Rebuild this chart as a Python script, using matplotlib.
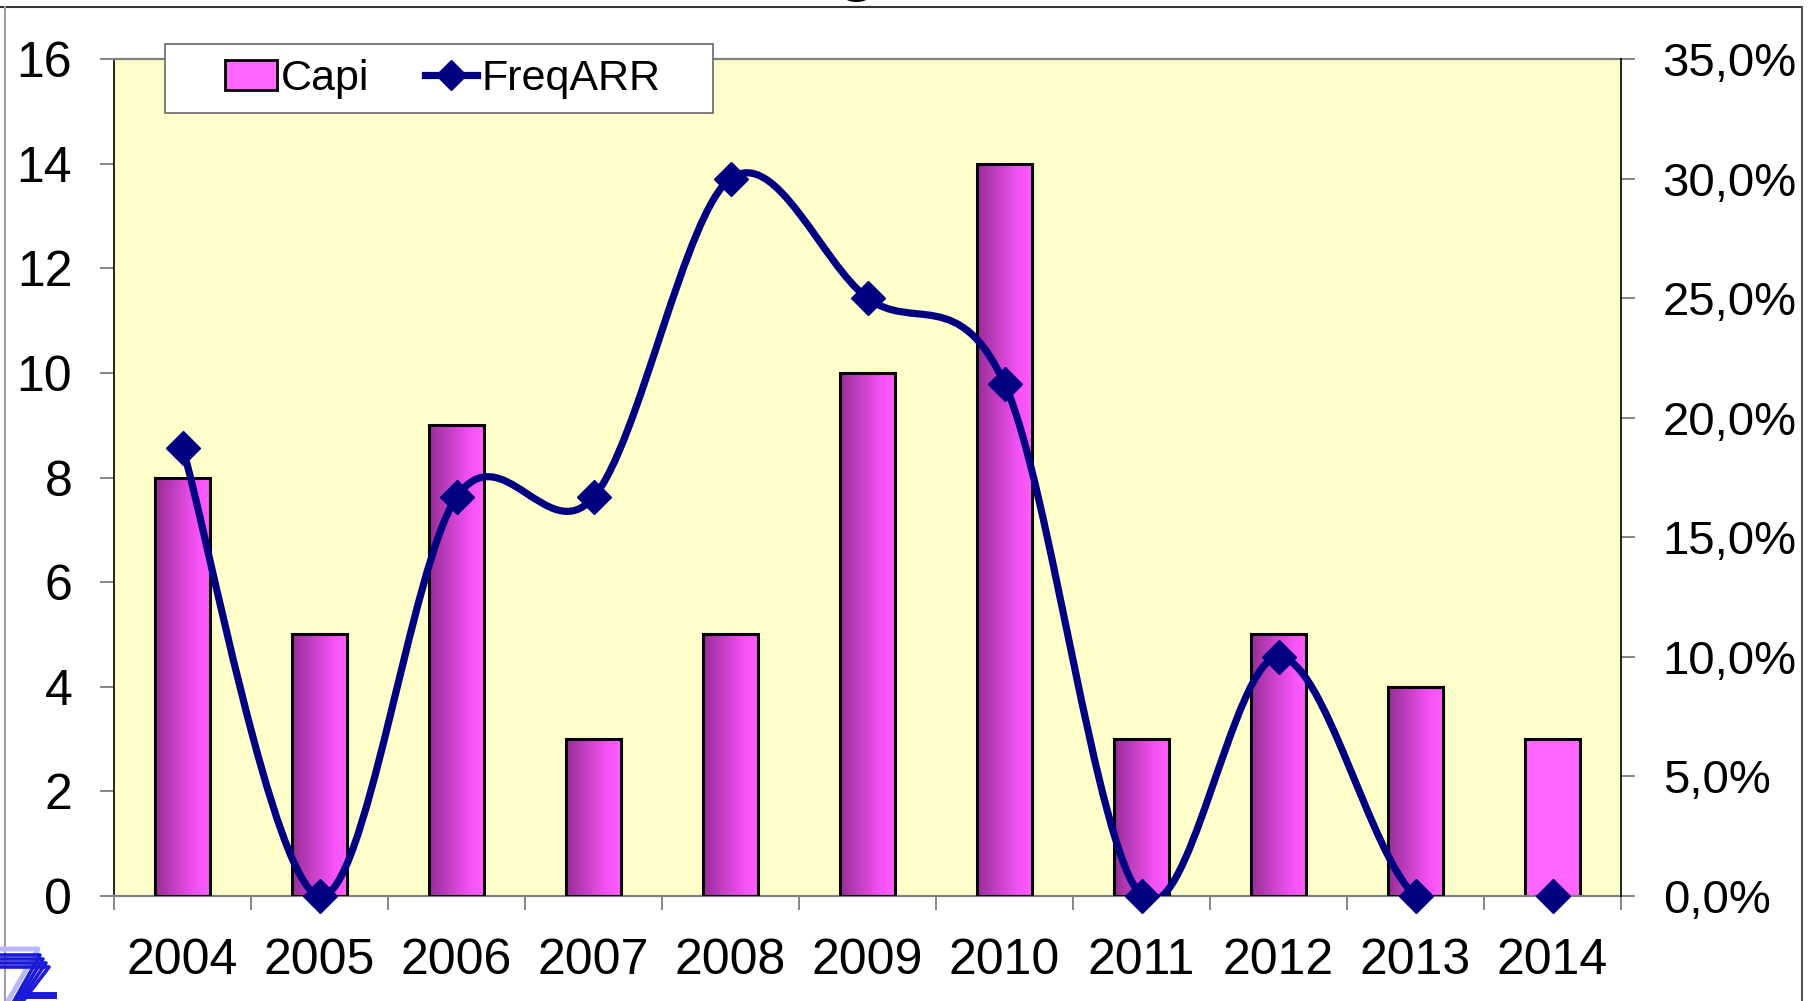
import numpy as np
import matplotlib.pyplot as plt
from matplotlib.path import Path
from matplotlib.patches import PathPatch, Patch, Rectangle
from matplotlib.lines import Line2D
from matplotlib.colors import LinearSegmentedColormap
from matplotlib.ticker import FuncFormatter

plt.rcParams['font.family'] = ['Liberation Sans', 'DejaVu Sans']

years = ['2004', '2005', '2006', '2007', '2008', '2009', '2010', '2011', '2012', '2013', '2014']
capi = [8, 5, 9, 3, 5, 10, 14, 3, 5, 4, 3]
freq_arr = [0.1875, 0.0, 0.1667, 0.1667, 0.30, 0.25, 0.2143, 0.0, 0.10, 0.0, 0.0]

W, H = 1811, 1001
navy = '#000080'
grey = '#808080'
fs = 36

fig = plt.figure(figsize=(W / 100, H / 100), dpi=100)
ax = fig.add_axes([114 / W, 1 - 896 / H, (1621 - 114) / W, (896 - 59) / H])
ax.set_facecolor('#FFFFCC')

x = np.arange(len(years))
bars = ax.bar(x, capi, width=0.4, color='#FF66FF', edgecolor='black', linewidth=2.2, zorder=2)

# gradient fill like the excel bars (last one is plain)
cmap = LinearSegmentedColormap.from_list('capi', [(0, '#962D96'), (0.75, '#F552F5'), (1, '#FF5EFF')])
grad = np.linspace(0, 1, 256).reshape(1, -1)
for i, b in enumerate(bars):
    if i == len(bars) - 1:
        continue
    im = ax.imshow(grad, cmap=cmap, aspect='auto', zorder=2.5,
                   extent=(b.get_x(), b.get_x() + b.get_width(), 0, b.get_height()))
    im.set_clip_path(b)
    b.set_zorder(3)
    b.set_facecolor('none')

ax.set_xlim(-0.5, len(years) - 0.5)
ax.set_ylim(0, 16)
ax.set_yticks(range(0, 17, 2))
ax.set_xticks(np.arange(-0.5, len(years), 1))
ax.set_xticklabels([])
ax.set_xticks(x, minor=True)
ax.set_xticklabels(years, minor=True)
ax.tick_params(axis='x', which='major', direction='out', length=10, width=1.1, color='#666666')
ax.tick_params(axis='x', which='minor', length=0, labelsize=fs, pad=30)
ax.tick_params(axis='y', direction='out', length=10, width=1.1, color='#666666', labelsize=fs, pad=20)

ax2 = ax.twinx()
ax2.set_ylim(0, 0.35)
ax2.set_yticks(np.arange(0, 0.351, 0.05))
ax2.yaxis.set_major_formatter(FuncFormatter(lambda v, p: f'{v * 100:.1f}%'.replace('.', ',')))
ax2.tick_params(axis='y', direction='out', length=10, width=1.1, color='#666666', labelsize=34, pad=20)

for s in ['left', 'top', 'bottom']:
    ax2.spines[s].set_visible(False)
ax2.spines['right'].set_color('black')
ax2.spines['right'].set_linewidth(1.2)
ax.spines['right'].set_visible(False)
ax.spines['left'].set_color('black')
ax.spines['left'].set_linewidth(1.2)
ax.spines['top'].set_color(grey)
ax.spines['top'].set_linewidth(1.6)
ax.spines['bottom'].set_color(grey)
ax.spines['bottom'].set_linewidth(1.6)

# smoothed line (catmull-rom as bezier)
pts = np.column_stack([x, freq_arr]).astype(float)
verts = [pts[0]]
codes = [Path.MOVETO]
n = len(pts)
for i in range(n - 1):
    p0 = pts[max(i - 1, 0)]
    p1 = pts[i]
    p2 = pts[i + 1]
    p3 = pts[min(i + 2, n - 1)]
    verts += [p1 + (p2 - p0) / 6, p2 - (p3 - p1) / 6, p2]
    codes += [Path.CURVE4] * 3
ax2.add_patch(PathPatch(Path(verts, codes), fill=False, edgecolor=navy, linewidth=5.2,
                        capstyle='round', joinstyle='round', zorder=4))
ax2.plot(x, freq_arr, ls='none', marker='D', ms=17, color=navy, clip_on=False, zorder=5)
ax2.set_ylim(0, 0.35)

# legend box drawn by hand, entries on top of it
ax2.add_patch(Rectangle((165 / W, 1 - 113 / H), 548 / W, 69 / H, transform=fig.transFigure,
                        facecolor='white', edgecolor='#666666', linewidth=1.2, clip_on=False, zorder=9))
handles = [Patch(facecolor='#FF66FF', edgecolor='black', linewidth=2),
           Line2D([], [], color=navy, lw=5.2, marker='D', ms=15)]
leg = ax2.legend(handles, ['Capi', 'FreqARR'], ncol=2, loc='center left',
                 bbox_to_anchor=(225 / W, 1 - 79 / H), bbox_transform=fig.transFigure,
                 borderaxespad=0, borderpad=0, fontsize=31, frameon=False,
                 handlelength=1.2, handletextpad=0.1, columnspacing=1.3)
leg.set_zorder(10)

# outer chart frame
fig.add_artist(Line2D([0, 1802 / W], [1 - 7 / H] * 2, transform=fig.transFigure, color='#333333', lw=1.5))
fig.add_artist(Line2D([5 / W] * 2, [0, 1 - 7 / H], transform=fig.transFigure, color='#A0A0A0', lw=1.5))
fig.add_artist(Line2D([1802 / W] * 2, [0, 1 - 7 / H], transform=fig.transFigure, color='#555555', lw=1.5))

# title cut off at the top
fig.text(857 / W, 1 + 12 / H, 'g', fontsize=48, fontweight='bold', ha='center', va='baseline')

# logo bottom left
def px(xs, ys):
    return [v / W for v in xs], [1 - v / H for v in ys]

xs, ys = px([0, 38, 8], [949, 949, 1001])
fig.add_artist(Line2D(xs, ys, transform=fig.transFigure, color='#B8B8FF', lw=3.5))
for k in range(4):
    xs, ys = px([0, 40 + 3 * k, 14 + 3 * k], [955 + 4 * k, 955 + 4 * k, 1001])
    fig.add_artist(Line2D(xs, ys, transform=fig.transFigure, color='#1A1AD8', lw=2.6))
xs, ys = px([28, 53], [995, 995])
fig.add_artist(Line2D(xs, ys, transform=fig.transFigure, color='#1A1AD8', lw=5))

fig.savefig('out.png', dpi=100)
